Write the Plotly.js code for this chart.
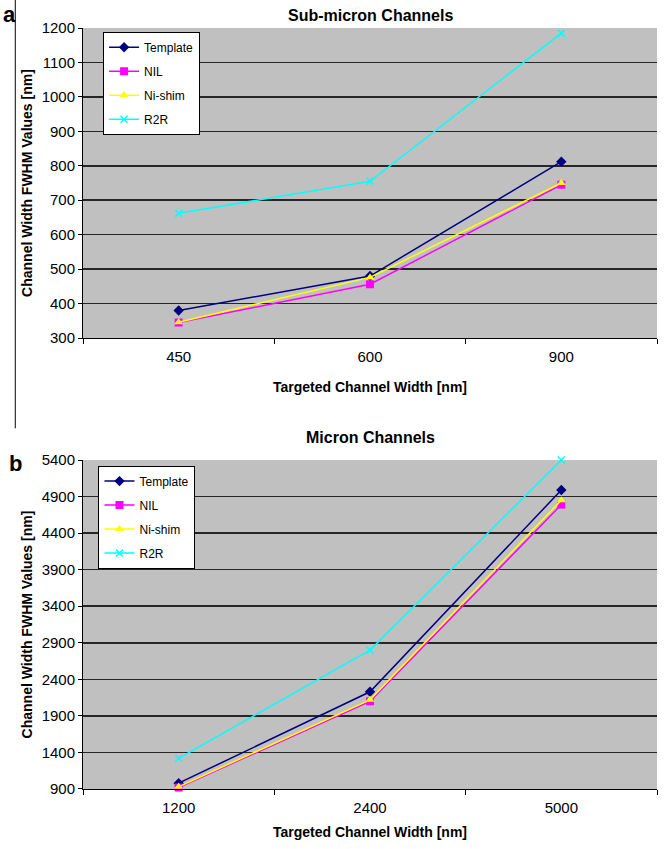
<!DOCTYPE html>
<html>
<head>
<meta charset="utf-8">
<script src="https://cdn.plot.ly/plotly-3.0.1.min.js"></script>
<style>html,body{margin:0;padding:0;background:#fff;}#chart{width:664px;height:849px;}</style>
</head>
<body>
<div id="chart"></div>
<script>
// Panel a: Sub-micron channels
const catsA = ['450', '600', '900'];
const templateA = [380, 480, 812];
const nilA = [345, 456, 745];
const nishimA = [346, 476, 750];
const r2rA = [662, 755, 1185];

// Panel b: Micron channels
const catsB = ['1200', '2400', '5000'];
const templateB = [980, 2230, 4990];
const nilB = [920, 2100, 4790];
const nishimB = [930, 2120, 4850];
const r2rB = [1320, 2800, 5400];

const seriesNames = ['Template', 'NIL', 'Ni-shim', 'R2R'];
const colors = ['#000080', '#FF00FF', '#FFFF00', '#00FFFF'];
const symbols = ['diamond', 'square', 'triangle-up', 'x-thin'];

const dataA = [templateA, nilA, nishimA, r2rA];
const dataB = [templateB, nilB, nishimB, r2rB];

const traces = [];
function addSet(cats, sets, xa, ya, leg, grpPrefix) {
  sets.forEach((vals, i) => {
    traces.push({
      type: 'scatter', mode: 'lines+markers',
      x: cats, y: vals, name: seriesNames[i],
      xaxis: xa, yaxis: ya, legend: leg,
      legendgroup: grpPrefix + i,
      cliponaxis: false,
      line: {color: colors[i], width: 1.5},
      marker: {color: colors[i], symbol: symbols[i], size: i === 3 ? 7 : 8,
               line: {color: colors[i], width: i === 3 ? 1.5 : 0}}
    });
  });
}
addSet(catsA, dataA, 'x', 'y', 'legend', 'a');
addSet(catsB, dataB, 'x2', 'y2', 'legend2', 'b');

const font = {family: 'Liberation Sans, Arial, sans-serif', color: '#000'};
const xCommon = {
  type: 'category', range: [-0.5, 2.5], showline: true, linecolor: '#000', linewidth: 1,
  ticks: 'outside', tickson: 'boundaries', ticklen: 5, tickcolor: '#000',
  showgrid: false, zeroline: false, tickfont: {size: 15, ...font},
  ticklabelstandoff: 5, automargin: false
};
const yCommon = {
  showline: true, linecolor: '#000', linewidth: 1,
  ticks: 'outside', ticklen: 4, tickcolor: '#000',
  showgrid: true, gridcolor: '#262626', gridwidth: 1.6, zeroline: false,
  tickfont: {size: 15, ...font}, automargin: false
};

const layout = {
  width: 664, height: 849,
  margin: {l: 83, r: 7, t: 28, b: 60},
  paper_bgcolor: '#fff', plot_bgcolor: '#C0C0C0',
  font: font,
  showlegend: true,
  xaxis: {...xCommon, domain: [0, 1], anchor: 'y',
    title: {text: '<b>Targeted Channel Width [nm]</b>', font: {size: 14, ...font}, standoff: 18}},
  yaxis: {...yCommon, domain: [0.5926, 1], anchor: 'x', range: [300, 1200], dtick: 100,
    title: {text: '<b>Channel Width FWHM Values [nm]</b>', font: {size: 14, ...font}, standoff: 5}},
  xaxis2: {...xCommon, domain: [0, 1], anchor: 'y2',
    title: {text: '<b>Targeted Channel Width [nm]</b>', font: {size: 14, ...font}, standoff: 12}},
  yaxis2: {...yCommon, domain: [0, 0.4323], anchor: 'x2', range: [900, 5400], tick0: 900, dtick: 500,
    title: {text: '<b>Channel Width FWHM Values [nm]</b>', font: {size: 14, ...font}, standoff: 5}},
  legend: {x: 0.035, y: 0.995, xanchor: 'left', yanchor: 'top', bgcolor: '#fff',
    bordercolor: '#000', borderwidth: 1, font: {size: 12, ...font},
    traceorder: 'grouped', tracegroupgap: 5, itemwidth: 30},
  legend2: {x: 0.027, y: 0.425, xanchor: 'left', yanchor: 'top', bgcolor: '#fff',
    bordercolor: '#000', borderwidth: 1, font: {size: 12, ...font},
    traceorder: 'grouped', tracegroupgap: 5, itemwidth: 30},
  annotations: [
    {text: '<b>Sub-micron Channels</b>', xref: 'paper', yref: 'paper', x: 0.5, y: 1.0,
     yanchor: 'middle', yshift: 13, showarrow: false, font: {size: 16, ...font}},
    {text: '<b>Micron Channels</b>', xref: 'paper', yref: 'paper', x: 0.5, y: 0.4323,
     yanchor: 'middle', yshift: 23, showarrow: false, font: {size: 16, ...font}},
    {text: '<b>a</b>', xref: 'paper', yref: 'paper', x: -0.142, y: 1.0, xanchor: 'left',
     yanchor: 'middle', yshift: 14, showarrow: false, font: {size: 22, ...font}},
    {text: '<b>b</b>', xref: 'paper', yref: 'paper', x: -0.132, y: 0.4323, xanchor: 'left',
     yanchor: 'middle', yshift: -3, showarrow: false, font: {size: 22, ...font}}
  ],
  shapes: [
    {type: 'line', xref: 'paper', yref: 'paper', x0: -0.118, x1: -0.118, y0: 1.037, y1: 0.474,
     line: {color: '#000', width: 1}}
  ]
};

Plotly.newPlot('chart', traces, layout, {displayModeBar: false, staticPlot: true});
</script>
</body>
</html>
